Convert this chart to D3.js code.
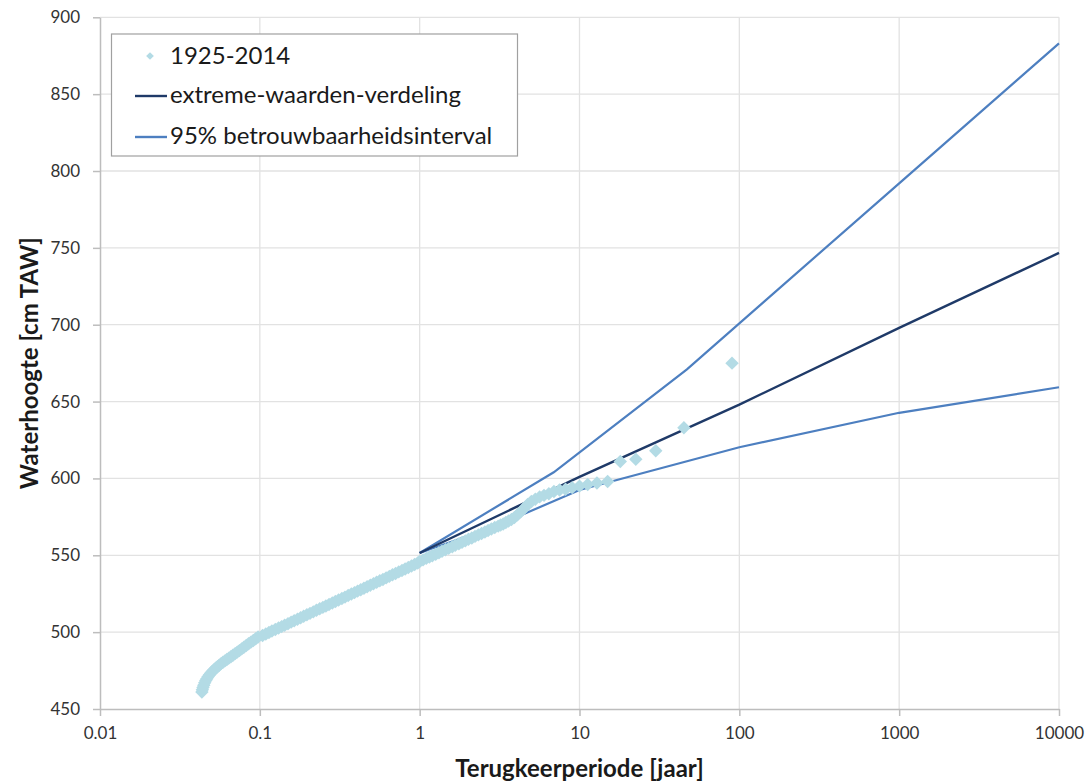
<!DOCTYPE html>
<html>
<head>
<meta charset="utf-8">
<script src="https://cdn.jsdelivr.net/npm/d3@7"></script>
<style>
  html, body { margin: 0; padding: 0; background: #fff; }
  svg { display: block; }
  text { font-family: Lato, "Open Sans", "DejaVu Sans", sans-serif; }
</style>
</head>
<body>
<svg id="chart" width="1091" height="782"></svg>
<script>
// Observed water levels 1925-2014: return period (years) and level (cm TAW)
const obsPeriod = [
  0.0434, 0.0437, 0.0441, 0.0446, 0.0452, 0.0459, 0.0466, 0.0474, 0.0483, 0.0493,
  0.0504, 0.0516, 0.0529, 0.0543, 0.0557, 0.0572, 0.0588, 0.0605, 0.0622, 0.0640,
  0.0659, 0.0679, 0.0700, 0.0722, 0.0745, 0.0770, 0.0795, 0.0822, 0.0850, 0.0880,
  0.0910, 0.0942, 0.0975,
  0.104, 0.109, 0.114, 0.119, 0.125, 0.131, 0.137, 0.143, 0.150, 0.157,
  0.164, 0.172, 0.180, 0.188, 0.197, 0.206, 0.216, 0.226, 0.237, 0.248,
  0.259, 0.271, 0.284, 0.297, 0.311, 0.326, 0.341, 0.357, 0.374, 0.391,
  0.409, 0.428, 0.448, 0.469, 0.491, 0.514, 0.538, 0.563, 0.589, 0.617,
  0.646, 0.676, 0.707, 0.740, 0.775, 0.811, 0.849, 0.889, 0.930, 0.973,
  1.00, 1.05, 1.10, 1.15, 1.20, 1.26, 1.32, 1.38, 1.45, 1.52,
  1.60, 1.67, 1.76, 1.84, 1.93, 2.02, 2.12, 2.22, 2.33, 2.44,
  2.56, 2.68, 2.81, 2.95,
  3.10, 3.21, 3.33, 3.46, 3.60, 3.75, 3.91, 4.09, 4.29, 4.50,
  4.74, 5.00, 5.29, 5.63, 6.00, 6.43, 6.92, 7.50, 8.18, 9.00,
  10.0, 11.25, 12.86, 15.0, 18.0, 22.5, 30.0, 45.0, 90.0
];
const obsLevel = [
  461.0, 462.5, 464.0, 465.5, 467.0, 468.5, 469.7, 471.0, 472.2, 473.3,
  474.4, 475.4, 476.5, 477.5, 478.5, 479.5, 480.4, 481.3, 482.2, 483.1,
  484.0, 485.0, 486.0, 487.0, 488.0, 489.1, 490.2, 491.3, 492.4, 493.5,
  494.6, 495.7, 496.8,
  497.8, 498.8, 499.8, 500.7, 501.7, 502.7, 503.6, 504.5, 505.5, 506.5,
  507.4, 508.4, 509.4, 510.3, 511.3, 512.2, 513.2, 514.2, 515.2, 516.1,
  517.0, 518.0, 519.0, 519.9, 520.9, 521.9, 522.8, 523.8, 524.8, 525.7,
  526.7, 527.6, 528.6, 529.5, 530.5, 531.5, 532.5, 533.4, 534.3, 535.3,
  536.3, 537.3, 538.2, 539.2, 540.1, 541.1, 542.1, 543.0, 544.0, 545.0,
  546.0, 547.0, 548.0, 548.9, 549.7, 550.7, 551.7, 552.6, 553.6, 554.5,
  555.6, 556.5, 557.5, 558.4, 559.4, 560.4, 561.3, 562.3, 563.3, 564.2,
  565.2, 566.1, 567.1, 568.1,
  569.0, 569.7, 570.4, 571.3, 572.3, 573.3, 574.5, 576.3, 578.3, 580.5,
  583.0, 585.0, 586.5, 588.0, 589.0, 590.0, 591.5, 592.5, 593.0, 594.0,
  595.0, 596.0, 597.0, 598.0, 611.0, 612.5, 618.0, 633.0, 675.0
];

// Fitted extreme value distribution
const fitPeriod = [1, 10, 100, 1000, 10000];
const fitLevel  = [551.5, 601.0, 648.0, 698.0, 746.7];

// 95% confidence bounds
const upperPeriod = [1, 6.9, 47, 1000, 10000];
const upperLevel  = [551.5, 604.0, 671.0, 792.0, 883.0];
const lowerPeriod = [1, 3, 10, 100, 1000, 10000];
const lowerLevel  = [551.5, 569.0, 592.5, 620.3, 642.7, 659.3];

// Axis ticks
const xTicks = [0.01, 0.1, 1, 10, 100, 1000, 10000];
const xTickLabels = ["0.01", "0.1", "1", "10", "100", "1000", "10000"];
const yTicks = [450, 500, 550, 600, 650, 700, 750, 800, 850, 900];

// Legend entries
const legendLabels = ["1925-2014", "extreme-waarden-verdeling", "95% betrouwbaarheidsinterval"];

const colObs = "#b3dbe5";
const colFit = "#1f3a68";
const colCI  = "#4d7fc0";

const svg = d3.select("#chart");
const plotL = 100, plotR = 1059, plotT = 17.3, plotB = 709;

const x = d3.scaleLog().domain([0.01, 10000]).range([plotL, plotR]);
const y = d3.scaleLinear().domain([450, 900]).range([plotB, plotT]);

// Gridlines
const grid = svg.append("g");
grid.selectAll("line.v").data(xTicks.slice(1)).join("line")
  .attr("x1", d => x(d)).attr("x2", d => x(d))
  .attr("y1", plotT).attr("y2", plotB)
  .attr("stroke", "#e2e2e2").attr("stroke-width", 1.3);
grid.selectAll("line.h").data(yTicks.slice(1)).join("line")
  .attr("x1", plotL).attr("x2", plotR)
  .attr("y1", d => y(d)).attr("y2", d => y(d))
  .attr("stroke", "#e2e2e2").attr("stroke-width", 1.3);

// Axes
const xAxis = d3.axisBottom(x).tickValues(xTicks)
  .tickFormat((d, i) => xTickLabels[i]).tickSize(7).tickPadding(11).tickSizeOuter(0);
const yAxis = d3.axisLeft(y).tickValues(yTicks).tickSize(7).tickPadding(13).tickSizeOuter(0);

const gx = svg.append("g").attr("transform", `translate(0,${plotB})`).call(xAxis);
const gy = svg.append("g").attr("transform", `translate(${plotL},0)`).call(yAxis);
[gx, gy].forEach(g => {
  g.select(".domain").attr("stroke", "#bdbdbd").attr("stroke-width", 1.5);
  g.selectAll(".tick line").attr("stroke", "#bdbdbd").attr("stroke-width", 1.5);
  g.selectAll(".tick text").attr("fill", "#333").style("font-size", "17px")
    .style("font-family", "Lato, 'Open Sans', sans-serif");
});

// Lines
const line = d3.line().x(d => x(d[0])).y(d => y(d[1]));
const series = [
  { p: upperPeriod, v: upperLevel, c: colCI, w: 2.2 },
  { p: lowerPeriod, v: lowerLevel, c: colCI, w: 2.2 },
  { p: fitPeriod, v: fitLevel, c: colFit, w: 2.4 }
];
series.forEach(s => {
  svg.append("path")
    .datum(s.p.map((t, i) => [t, s.v[i]]))
    .attr("d", line).attr("fill", "none")
    .attr("stroke", s.c).attr("stroke-width", s.w);
});

// Observations as diamonds
const diamond = d3.symbol().type(d3.symbolSquare).size(90);
svg.append("g").selectAll("path")
  .data(obsPeriod.map((t, i) => [t, obsLevel[i]]))
  .join("path")
  .attr("d", diamond)
  .attr("transform", d => `translate(${x(d[0])},${y(d[1])}) rotate(45)`)
  .attr("fill", colObs);

// Legend
const lg = svg.append("g");
lg.append("rect").attr("x", 111.5).attr("y", 34).attr("width", 406).attr("height", 122)
  .attr("fill", "#fff").attr("stroke", "#a0a0a0").attr("stroke-width", 1.2);
lg.append("path").attr("d", d3.symbol().type(d3.symbolSquare).size(30))
  .attr("transform", "translate(150,56) rotate(45)").attr("fill", colObs);
lg.append("line").attr("x1", 135).attr("x2", 167).attr("y1", 96).attr("y2", 96)
  .attr("stroke", colFit).attr("stroke-width", 2.4);
lg.append("line").attr("x1", 135).attr("x2", 167).attr("y1", 137).attr("y2", 137)
  .attr("stroke", colCI).attr("stroke-width", 2.4);
const legY = [64, 103, 144];
lg.selectAll("text").data(legendLabels).join("text")
  .attr("x", 170).attr("y", (d, i) => legY[i])
  .attr("fill", "#1a1a1a").style("font-size", "24px").text(d => d);

// Axis titles
svg.append("text").attr("x", (plotL + plotR) / 2).attr("y", 777)
  .attr("text-anchor", "middle").style("font-size", "24px").style("font-weight", "bold")
  .attr("fill", "#1a1a1a").text("Terugkeerperiode [jaar]");
svg.append("text").attr("transform", `translate(38,${(plotT + plotB) / 2}) rotate(-90)`)
  .attr("text-anchor", "middle").style("font-size", "24px").style("font-weight", "bold")
  .attr("fill", "#1a1a1a").text("Waterhoogte [cm TAW]");
</script>
</body>
</html>
